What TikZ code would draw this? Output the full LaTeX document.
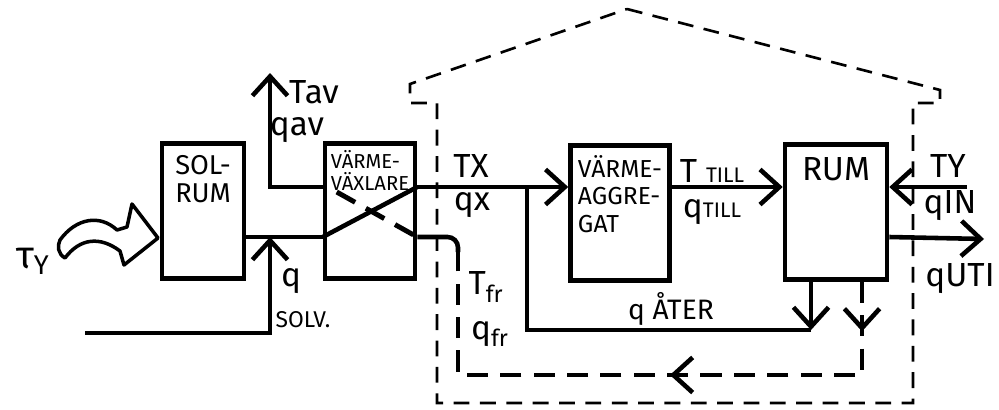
\documentclass[tikz,border=0pt]{standalone}
\usepackage{fontspec}
\setmainfont{Fira Sans}
\usetikzlibrary{arrows.meta,positioning,calc,decorations.markings}

\begin{document}
\begin{tikzpicture}[x=0.02cm, y=-0.02cm, >={Straight Barb[length=11pt,width=20pt,line width=2.6pt]},
    block/.style={rectangle, draw, line width=2.6pt, minimum width=1.8cm, minimum height=2.7cm},
    boxtext/.style={align=left, font=\fontsize{15.5}{16}\selectfont, inner sep=0pt},
    wire/.style={draw, line width=2.6pt},
    line/.style={wire, ->},
    house/.style={draw, line width=1.5pt, dash pattern=on 9pt off 6pt},
    ret/.style={draw, line width=2.8pt, dash pattern=on 12pt off 7pt},
    retmarks/.style={postaction={decorate, decoration={markings,
        mark=at position 0.08 with {\arrow{>}},
        mark=at position 0.46 with {\arrow{>}}}}},
    lbl/.style={font=\fontsize{19}{19}\selectfont, inner sep=0pt},
    sub/.style={font=\fontsize{13}{13}\selectfont, inner sep=0pt}]

    \useasboundingbox (0,0) rectangle (999,409);

    % House
    \draw[house] (627,9) -- (940,90) -- (940,103) -- (913,103) -- (913,403)
        -- (437,403) -- (437,103) -- (410,103) -- (410,84) -- cycle;

    % Blocks
    \node [block, minimum width=1.64cm] (solrum) at (203,211) {};
    \node [block] (vvx) at (370,211) {};
    \node [block, minimum width=1.98cm] (agg) at (620,213) {};
    \node [block, minimum width=2.04cm] (rum) at (836,212) {};

    \node [boxtext, below=0.28cm of solrum.north] (solrumtext) {SOL-\\RUM};
    \node [boxtext, font=\fontsize{11.5}{12.5}\selectfont, below=0.18cm of vvx.north] (vvxtext) {VÄRME-\\VÄXLARE};
    \node [boxtext, font=\fontsize{14}{15.5}\selectfont, below=0.24cm of agg.north] (aggtext) {VÄRME-\\AGGRE-\\GAT};
    \node [boxtext, font=\fontsize{19}{19}\selectfont, below=0.3cm of rum.north] (rumtext) {RUM};

    % Rows and columns
    \coordinate (rowhi) at (0,187);
    \coordinate (rowlo) at (0,237);
    \coordinate (retbot) at (0,375);
    \coordinate (aterrow) at (0,330);
    \coordinate (colfr) at (458,0);
    \coordinate (coljoin) at (527,0);
    \coordinate (colater) at (811,0);
    \coordinate (colret) at (862,0);
    \coordinate (avtop) at (270,73);
    \coordinate (solvstart) at (85,333);
    \coordinate (solvjoin) at (270,237);
    \coordinate (tyin) at (967,187);
    \coordinate (utout) at (984,239);
    \coordinate (frbend) at (458,252);

    % Sun
    \draw [line width=2pt, fill=white, line join=round]
        (60,240) .. controls (76,218) and (100,214) .. (117,230) -- (127,227)
        -- (132,204) -- (158,238) -- (124,265) -- (120,251)
        .. controls (100,236) and (80,238) .. (65,258)
        .. controls (58,254) and (57,246) .. (60,240) -- cycle;

    % Paths
    \path [line] (vvx.west |- rowhi) -| (avtop);
    \path [wire] (solrum.east |- rowlo) -- (vvx.west |- rowlo);
    \path [line] (solvstart) -| (solvjoin);
    \path [wire] (vvx.west |- rowlo) -- (vvx.east |- rowhi);
    \path [ret] ($(vvx.west |- rowhi)+(14,5)$) -- (vvx.east |- rowlo);
    \path [line] (vvx.east |- rowhi) -- (agg.west |- rowhi);
    \path [line] (agg.east |- rowhi) -- (rum.west |- rowhi);
    \path [line] (tyin) -- (rum.east |- rowhi);
    \path [line] (rum.east |- rowlo) -- (utout);
    \path [line] (rum.south -| colater) -- (colater |- aterrow);
    \path [wire] (colater |- aterrow) -| (coljoin |- rowhi);
    \path [ret, retmarks] (rum.south -| colret) |- (colfr |- retbot) -- (frbend);
    \path [wire, rounded corners=6pt] (vvx.east |- rowlo) -| (frbend);

    % Labels
    \node [lbl] (tavlbl) at (314,92) {Tav};
    \node [lbl] (qavlbl) at (297,130) {qav};
    \node [lbl, font=\fontsize{22}{22}\selectfont] (taulbl) at (33,261) {τ\textsubscript{Y}};
    \node [lbl] (qsolvlbl) at (291,281) {q};
    \node [sub] (solvlbl) at (303,320) {SOLV.};
    \node [lbl] (txlbl) at (471,166) {TX};
    \node [lbl] (qxlbl) at (472,205) {qx};
    \node [lbl] (tfrlbl) at (486,287) {T\textsubscript{fr}};
    \node [lbl] (qfrlbl) at (490,334) {q\textsubscript{fr}};
    \node [lbl] (ttilllbl) at (712,171) {T {\fontsize{12}{12}\selectfont TILL}};
    \node [lbl] (qtilllbl) at (712,212) {q{\fontsize{12}{12}\selectfont TILL}};
    \node [lbl, font=\fontsize{16}{16}\selectfont] (aterlbl) at (671,309) {q ÅTER};
    \node [lbl] (tylbl) at (948,166) {TY};
    \node [lbl] (qinlbl) at (950,206) {qIN};
    \node [lbl] (qutlbl) at (960,279) {qUTI};

\end{tikzpicture}
\end{document}
